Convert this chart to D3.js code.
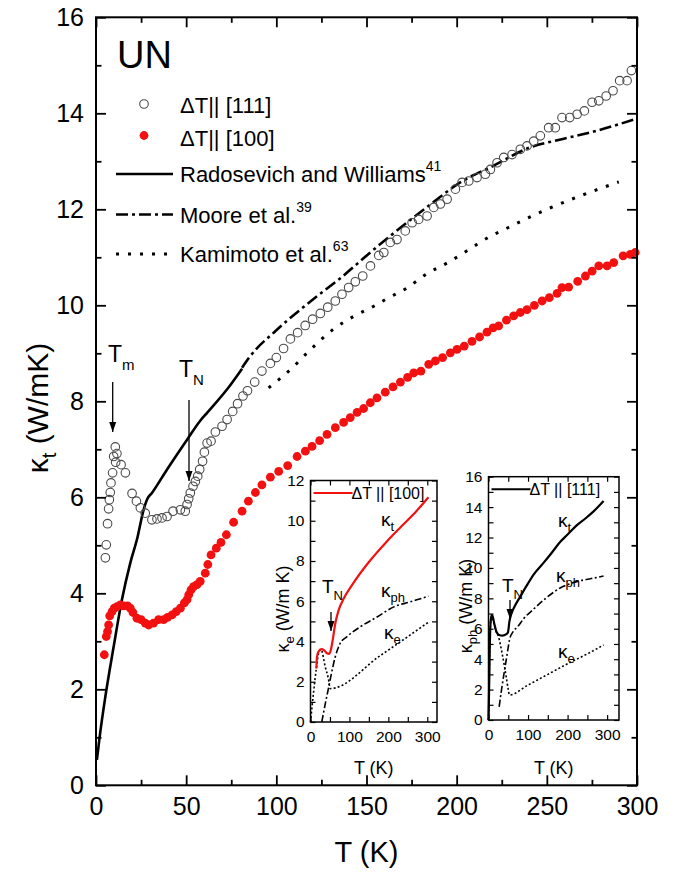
<!DOCTYPE html>
<html><head><meta charset="utf-8">
<script src="https://cdn.jsdelivr.net/npm/d3@7"></script>
<style>
body{margin:0;background:#fff}
svg{display:block}
text{font-family:"Liberation Sans",Arial,Helvetica,sans-serif;fill:#000}
</style></head><body>
<svg id="chart" width="678" height="875"></svg>
<script>
// ---- measured thermal conductivity of UN, [T (K), kappa (W/mK)] ----
const open111 = [[5.2,4.74],[5.7,5.01],[6.4,5.45],[7.0,5.76],[7.4,5.95],[7.9,6.10],[8.3,6.30],[9.2,6.51],[9.8,6.85],[10.7,7.05],[11.6,6.91],[10.9,6.73],[13.9,6.68],[16.3,6.51],[20,6.08],[22.4,5.92],[24.6,5.78],[27.3,5.67],[31,5.53],[33.8,5.55],[36.6,5.57],[39.4,5.60],[42.7,5.71],[46.8,5.74],[49.5,5.71],[50.5,5.85],[51.4,5.97],[52.3,6.09],[53.8,6.23],[55.1,6.33],[56.4,6.44],[57.5,6.58],[59.1,6.75],[60.1,6.94],[61.6,7.13],[63.8,7.17],[66.2,7.36],[69.9,7.48],[72.7,7.62],[75.8,7.79],[78.5,7.95],[81.5,8.11],[84,8.22],[88,8.40],[92,8.63],[96.7,8.79],[100,8.91],[104,9.10],[107.8,9.30],[111.8,9.43],[116,9.58],[120.1,9.71],[124.4,9.83],[128.5,9.96],[132.7,10.09],[136.4,10.23],[140.1,10.37],[143.8,10.49],[147.9,10.61],[152.2,10.82],[156.8,11.04],[159.6,11.10],[163.2,11.31],[166.9,11.37],[171.5,11.55],[175.3,11.72],[178.9,11.79],[183.6,11.86],[187.3,12.04],[191,12.11],[194.7,12.21],[199.3,12.42],[203,12.56],[206.7,12.59],[211.3,12.66],[215.9,12.73],[218.7,12.83],[222.4,12.97],[226.1,13.08],[230.7,13.14],[235.3,13.25],[239,13.32],[242.7,13.42],[246.4,13.53],[251,13.70],[254.7,13.70],[258.4,13.91],[262.7,13.91],[266.8,13.98],[270.8,14.05],[275.1,14.23],[278.8,14.26],[282.9,14.36],[286.7,14.47],[290.4,14.68],[294.5,14.68],[296.9,14.89]];

const filled100 = [[4.6,2.72],[5.7,3.10],[6.4,3.20],[7.0,3.34],[7.6,3.53],[8.9,3.62],[10.1,3.69],[11.6,3.72],[13.5,3.76],[15.3,3.74],[17.5,3.74],[19,3.69],[20.5,3.60],[22.7,3.48],[25,3.45],[27.3,3.38],[29.2,3.34],[31.9,3.38],[34.7,3.45],[37.5,3.45],[39.7,3.50],[42.2,3.55],[44.5,3.62],[46.8,3.69],[49,3.80],[50.5,3.87],[51.4,3.97],[52.7,4.07],[54.1,4.14],[56,4.18],[57.8,4.25],[60.6,4.42],[62,4.60],[63.8,4.80],[66.7,4.94],[69.3,5.06],[72.3,5.22],[76.3,5.48],[81,5.71],[84.5,5.92],[88.4,6.10],[92,6.26],[96.7,6.42],[101.3,6.54],[106.3,6.66],[111.5,6.85],[116.1,6.96],[119.8,7.06],[124,7.18],[128.1,7.31],[132.7,7.45],[137.3,7.56],[141,7.66],[144.8,7.77],[148.4,7.85],[152.1,7.97],[155.8,8.07],[160.4,8.19],[164.7,8.30],[168.8,8.40],[172.8,8.50],[176.2,8.59],[180.2,8.63],[184.5,8.77],[188.2,8.84],[192.2,8.91],[196.5,9.01],[200.2,9.08],[204.2,9.15],[208.5,9.25],[212.7,9.34],[216.8,9.44],[220.2,9.53],[223.3,9.57],[227.6,9.69],[231.6,9.78],[235.3,9.85],[239,9.91],[243.1,10.0],[247.4,10.09],[251.4,10.16],[255.7,10.25],[258.4,10.37],[262.1,10.38],[267.1,10.50],[271.4,10.61],[275.1,10.71],[278.8,10.82],[283.4,10.82],[287.1,10.89],[292.3,11.03],[296.3,11.06],[299,11.10]];

// ---- literature curves ----
const radosevich = [[0.5,0.53],[2,1.0],[5.2,1.85],[9.8,2.89],[14.4,3.87],[19,4.63],[22.7,5.12],[26.4,5.74],[28.5,5.97],[31,6.09],[39.4,6.58],[50.5,7.2],[57.9,7.6],[61.6,7.76],[72.7,8.25],[81,8.68]];
const moore = [[81,8.7],[85.5,8.94],[99.4,9.46],[113.3,9.91],[122.6,10.19],[136,10.58],[150.8,11.06],[165,11.5],[185.4,12.1],[202,12.56],[220,12.9],[240.7,13.29],[257,13.45],[274,13.6],[300,13.89]];
const kamimoto = [[95.7,8.28],[107.8,8.66],[119,9.08],[131.6,9.5],[142.9,9.77],[154,9.98],[160.4,10.12],[172,10.35],[183.6,10.66],[195.6,10.9],[207.2,11.17],[218.7,11.44],[224.8,11.55],[250,12.0],[270,12.3],[289.9,12.57]];

// ---- separation into electronic and phonon parts ----
const kt100 = [[15,2.65],[16.5,3.2],[20,3.48],[28,3.62],[35,3.56],[42,3.42],[48,3.39],[53,3.64],[57.5,4.13],[63.5,4.88],[72,5.54],[85,6.12],[110,6.9],[150,7.95],[195,8.95],[235,9.75],[273,10.5],[303,11.17]];
const kph100 = [[29,0],[38,0.91],[46,1.66],[52,2.24],[63.5,3.23],[76,3.9],[93,4.23],[128,4.73],[171,5.22],[214,5.72],[256,5.97],[303,6.25]];
const ke100 = [[0,0],[8,1.5],[15,2.65],[22,3.5],[27,3.6],[38,2.73],[46,2.15],[50.6,1.66],[180,3.31],[303,4.96]];

const kt111 = [[0,0],[1.5,2],[3,4.5],[5,6.3],[7.6,6.9],[10,6.85],[15,6.3],[20,5.8],[27,5.59],[35,5.55],[45,5.65],[49,5.75],[53,6.5],[58,7.0],[65.6,7.45],[80,8.1],[95,8.77],[115,9.6],[138,10.3],[160,11.0],[181,11.7],[200,12.2],[223,12.8],[245,13.25],[265,13.7],[291,14.4]];
const kph111 = [[27,0.87],[33,2.0],[40,3.18],[47,4.3],[53,5.26],[62,5.8],[74,6.14],[90,6.7],[112,7.24],[140,7.9],[180,8.66],[223,9.1],[260,9.3],[291,9.47]];
const ke111 = [[0,0],[1.5,2.2],[3,4.5],[6,6.6],[10,6.6],[18,5.9],[25,5.5],[35,4.3],[45,2.8],[50,2.0],[53,1.65],[100,2.3],[150,3.0],[200,3.7],[250,4.35],[291,4.93]];

// ---- tick values and legend texts ----
const mainXMajor = [0,50,100,150,200,250,300];
const mainXMinor = [25,75,125,175,225,275];
const mainYMajor = [0,2,4,6,8,10,12,14,16];
const mainYMinor = [1,3,5,7,9,11,13,15];
const insetXMajor = [0,100,200,300];
const insetXMinor = [50,150,250];
const inset1YMajor = [0,2,4,6,8,10,12];
const inset1YMinor = [1,3,5,7,9,11];
const inset2YMajor = [0,2,4,6,8,10,12,14,16];
const inset2YMinor = [1,3,5,7,9,11,13,15];
const legendSymbols = ["\u0394T|| [111]","\u0394T|| [100]"];
const legendLines = [["Radosevich and Williams","41"],["Moore et al.","39"],["Kamimoto et al.","63"]];

const svg = d3.select("#chart");
const RED = "#f21010";

// arrow head
svg.append("defs").append("marker")
  .attr("id","arr").attr("viewBox","0 0 10 10").attr("refX",10).attr("refY",5)
  .attr("markerWidth",10).attr("markerHeight",10).attr("markerUnits","userSpaceOnUse").attr("orient","auto")
  .append("path").attr("d","M0,1.5 L10,5 L0,8.5 Z").attr("fill","#000");

function frame(g, sx, sy, o){
  const [x0,x1] = sx.range(), [y0,y1] = sy.range();
  const strip = s => s.select(".domain").remove();
  const put = (axis, tr) => {
    const a = g.append("g").attr("transform", tr).call(axis).call(strip);
    a.attr("font-family", null);
    a.selectAll("line").attr("stroke","#000").attr("stroke-width", o.tickW);
    a.selectAll("text").style("font-size", o.fs + "px");
    return a;
  };
  // bottom
  put(d3.axisBottom(sx).tickValues(o.xMajor).tickSize(-o.maj).tickSizeOuter(0).tickPadding(o.xPad), `translate(0,${y0})`);
  put(d3.axisBottom(sx).tickValues(o.xMinor).tickSize(-o.min).tickSizeOuter(0).tickFormat(""), `translate(0,${y0})`);
  // top
  put(d3.axisTop(sx).tickValues(o.xMajor).tickSize(-o.maj).tickSizeOuter(0).tickFormat(""), `translate(0,${y1})`);
  put(d3.axisTop(sx).tickValues(o.xMinor).tickSize(-o.min).tickSizeOuter(0).tickFormat(""), `translate(0,${y1})`);
  // left
  put(d3.axisLeft(sy).tickValues(o.yMajor).tickSize(-o.maj).tickSizeOuter(0).tickPadding(o.yPad), `translate(${x0},0)`);
  put(d3.axisLeft(sy).tickValues(o.yMinor).tickSize(-o.min).tickSizeOuter(0).tickFormat(""), `translate(${x0},0)`);
  // right
  put(d3.axisRight(sy).tickValues(o.yMajor).tickSize(-o.maj).tickSizeOuter(0).tickFormat(""), `translate(${x1},0)`);
  put(d3.axisRight(sy).tickValues(o.yMinor).tickSize(-o.min).tickSizeOuter(0).tickFormat(""), `translate(${x1},0)`);
  g.append("rect").attr("x",x0).attr("y",y1).attr("width",x1-x0).attr("height",y0-y1)
    .attr("fill","none").attr("stroke","#000").attr("stroke-width",o.boxW);
}

// ================= main panel =================
const x = d3.scaleLinear().domain([0,300]).range([96,637]);
const y = d3.scaleLinear().domain([0,16]).range([785.3,17.3]);
const main = svg.append("g");
const line = (sx,sy) => d3.line().x(d=>sx(d[0])).y(d=>sy(d[1])).curve(d3.curveMonotoneX);

main.append("path").datum(radosevich).attr("d", line(x,y)).attr("fill","none").attr("stroke","#000").attr("stroke-width",2.6);
main.append("path").datum(moore).attr("d", line(x,y)).attr("fill","none").attr("stroke","#000").attr("stroke-width",2.6).attr("stroke-dasharray","12,4,3,4");
main.append("path").datum(kamimoto).attr("d", line(x,y)).attr("fill","none").attr("stroke","#000").attr("stroke-width",3).attr("stroke-dasharray","3,9");

main.append("g").selectAll("circle").data(open111).join("circle")
  .attr("cx",d=>x(d[0])).attr("cy",d=>y(d[1])).attr("r",4.3)
  .attr("fill","none").attr("stroke","#4a4a4a").attr("stroke-width",1.1);
main.append("g").selectAll("circle").data(filled100).join("circle")
  .attr("cx",d=>x(d[0])).attr("cy",d=>y(d[1])).attr("r",4.4).attr("fill",RED);

frame(main, x, y, {xMajor:mainXMajor,xMinor:mainXMinor,yMajor:mainYMajor,yMinor:mainYMinor,
  maj:10,min:5.5,fs:25,xPad:12,yPad:12,tickW:1.8,boxW:2});

// axis titles
main.append("text").attr("x",x(150)).attr("y",862).attr("text-anchor","middle").style("font-size","29px").text("T (K)");
const yt = main.append("text").attr("transform","translate(48,408) rotate(-90)").attr("text-anchor","middle").style("font-size","30px");
yt.append("tspan").text("\u03BA");
yt.append("tspan").attr("dy",8).style("font-size","20px").text("t");
yt.append("tspan").attr("dy",-8).text(" (W/mK)");

// material label and legend
main.append("text").attr("x",117).attr("y",68).style("font-size","38px").text("UN");
main.append("circle").attr("cx",144).attr("cy",104).attr("r",4.3).attr("fill","none").attr("stroke","#4a4a4a").attr("stroke-width",1.1);
main.append("circle").attr("cx",144).attr("cy",135.5).attr("r",4.4).attr("fill",RED);
main.append("text").attr("x",180).attr("y",113).style("font-size","22px").text(legendSymbols[0]);
main.append("text").attr("x",180).attr("y",146).style("font-size","22px").text(legendSymbols[1]);

const legStyles = [{w:2.6,dash:null},{w:2.6,dash:"12,4,3,4"},{w:3,dash:"3,9"}];
const legY = [174, 214.5, 254];
legendLines.forEach((L,i)=>{
  main.append("line").attr("x1",116).attr("x2",173).attr("y1",legY[i]).attr("y2",legY[i])
    .attr("stroke","#000").attr("stroke-width",legStyles[i].w).attr("stroke-dasharray",legStyles[i].dash);
  const t = main.append("text").attr("x",180).attr("y",legY[i]+8).style("font-size","22px");
  t.append("tspan").text(L[0]);
  t.append("tspan").attr("dy",-11).style("font-size","14px").text(L[1]);
});

// transition markers
function marker(g, tx, ty, sub, ax, ay1, ay2, fs, sfs){
  const t = g.append("text").attr("x",tx).attr("y",ty).style("font-size",fs+"px");
  t.append("tspan").text("T");
  t.append("tspan").attr("dy",fs*0.35).style("font-size",sfs+"px").text(sub);
  g.append("line").attr("x1",ax).attr("x2",ax).attr("y1",ay1).attr("y2",ay2)
    .attr("stroke","#000").attr("stroke-width",1.3).attr("marker-end","url(#arr)");
}
marker(main, 108, 362, "m", 112.7, 382, 432, 23, 15);
marker(main, 179, 377, "N", 189, 400, 481, 23, 15);

// ================= insets =================
function inset(cfg){
  const g = svg.append("g");
  const ix = d3.scaleLinear().domain([0,cfg.xMax]).range([cfg.left,cfg.right]);
  const iy = d3.scaleLinear().domain([0,cfg.yMax]).range([cfg.bottom,cfg.top]);
  g.append("rect").attr("x",cfg.left).attr("y",cfg.top).attr("width",cfg.right-cfg.left)
    .attr("height",cfg.bottom-cfg.top).attr("fill","#fff");
  const L = line(ix,iy);
  g.append("path").datum(cfg.ke).attr("d",L).attr("fill","none").attr("stroke","#000").attr("stroke-width",1.6).attr("stroke-dasharray","2,2.2");
  g.append("path").datum(cfg.kph).attr("d",L).attr("fill","none").attr("stroke","#000").attr("stroke-width",1.6).attr("stroke-dasharray","7,2.5,2,2.5");
  g.append("path").datum(cfg.kt).attr("d",L).attr("fill","none").attr("stroke",cfg.color).attr("stroke-width",2.2);
  frame(g, ix, iy, {xMajor:insetXMajor,xMinor:insetXMinor,yMajor:cfg.yMajor,yMinor:cfg.yMinor,
    maj:5,min:5,fs:15.5,xPad:9,yPad:6,tickW:1.2,boxW:1.5});
  // legend inside the frame
  g.append("line").attr("x1",cfg.left+3).attr("x2",cfg.left+42).attr("y1",cfg.top+12.5).attr("y2",cfg.top+12.5)
    .attr("stroke",cfg.color).attr("stroke-width",2);
  g.append("text").attr("x",cfg.left+41).attr("y",cfg.top+18).style("font-size","16px").text(cfg.legend);
  // component labels
  const kl = (px,py,sub) => {
    const t = g.append("text").attr("x",px).attr("y",py).style("font-size","19px");
    t.append("tspan").text("\u03BA");
    t.append("tspan").attr("dy",5).style("font-size","13px").text(sub);
  };
  kl(cfg.ktPos[0],cfg.ktPos[1],"t");
  kl(cfg.kphPos[0],cfg.kphPos[1],"ph");
  kl(cfg.kePos[0],cfg.kePos[1],"e");
  marker(g, cfg.tn[0], cfg.tn[1], "N", cfg.tn[2], cfg.tn[3], cfg.tn[4], 19, 13);
  // axis titles
  g.append("text").attr("x",(cfg.left+cfg.right)/2).attr("y",774).attr("text-anchor","middle").style("font-size","18px").text("T (K)");
  const yl = g.append("text").attr("transform",`translate(${cfg.ylab[0]},${cfg.ylab[1]}) rotate(-90)`).attr("text-anchor","middle").style("font-size","18px");
  yl.append("tspan").text("\u03BA");
  yl.append("tspan").attr("dy",5).style("font-size","13px").text(cfg.ysub);
  yl.append("tspan").attr("dy",-5).text(" (W/m K)");
}

inset({left:310.5,right:437,top:480.5,bottom:722,xMax:325,yMax:12,
  yMajor:inset1YMajor,yMinor:inset1YMinor,kt:kt100,kph:kph100,ke:ke100,color:RED,
  legend:"\u0394T || [100]",ktPos:[381,526],kphPos:[381,597],kePos:[384,639],
  tn:[322,593,331,612,631],ylab:[289,609],ysub:"e"});

inset({left:488.5,right:619,top:476.7,bottom:720,xMax:330,yMax:16,
  yMajor:inset2YMajor,yMinor:inset2YMinor,kt:kt111,kph:kph111,ke:ke111,color:"#000",
  legend:"\u0394T || [111]",ktPos:[558,527],kphPos:[556,582],kePos:[558,658],
  tn:[502,592,510,600,619],ylab:[472,606],ysub:"ph"});
</script>
</body></html>
